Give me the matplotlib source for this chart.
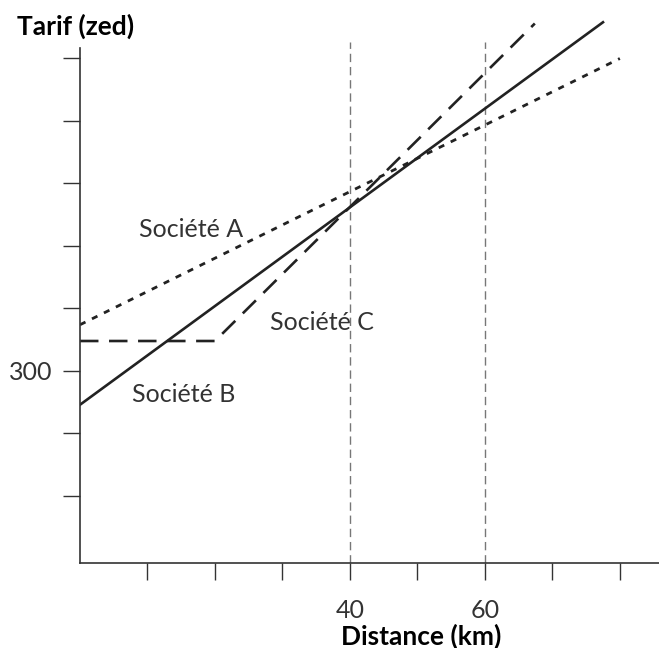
import matplotlib.pyplot as plt

plt.rcParams['font.family'] = ['Lato', 'DejaVu Sans']

distance_a = [0, 80]
tarif_a = [337, 550]
distance_b = [0, 77.5]
tarif_b = [273, 579]
distance_c = [0, 20, 67.4]
tarif_c = [324, 324, 578]

x_ticks = [10, 20, 30, 40, 50, 60, 70, 80]
x_labels = ["", "", "", "40", "", "60", "", ""]
y_ticks = [200, 250, 300, 350, 400, 450, 500, 550]
y_labels = ["", "", "300", "", "", "", "", ""]
marked_distances = [40, 60]

fig = plt.figure(figsize=(6.59, 6.48), dpi=100)
ax = fig.add_axes([80 / 659, 1 - 563 / 648, 1 - 80 / 659, (563 - 15) / 648])

ax.set_xlim(0, 85.8)
ax.set_ylim(146.4, 584.8)

for d in marked_distances:
	ax.plot([d, d], [146.4, 563], color="#777777", lw=1.0, dashes=(6, 3.5))

ax.plot(distance_a, tarif_a, color="#222222", lw=2.0, dashes=(2.2, 2.6))
ax.plot(distance_b, tarif_b, color="#222222", lw=1.9)
ax.plot(distance_c, tarif_c, color="#222222", lw=1.9, dashes=(7, 4))

lbl = dict(ha="center", va="center", fontsize=18, color="#333333")
ax.text(16.4, 412.8, "Société A", **lbl)
ax.text(35.9, 338.4, "Société C", **lbl)
ax.text(15.3, 280.8, "Société B", **lbl)

ax.spines["top"].set_visible(False)
ax.spines["right"].set_visible(False)
ax.spines["left"].set_bounds(146.4, 558.4)
for s in ["left", "bottom"]:
	ax.spines[s].set_color("#333333")
	ax.spines[s].set_linewidth(1.2)

ax.set_xticks(x_ticks)
ax.set_xticklabels(x_labels)
ax.set_yticks(y_ticks)
ax.set_yticklabels(y_labels)
ax.tick_params(axis="both", direction="out", length=12, width=1.0, color="#333333",
	labelsize=18, labelcolor="#333333")
ax.tick_params(axis="x", pad=14)
ax.tick_params(axis="y", pad=8)

fig.text(421 / 659, 1 - 636 / 648, "Distance (km)", fontsize=19, fontweight="bold",
	ha="center", va="center")
fig.text(17 / 659, 1 - 26 / 648, "Tarif (zed)", fontsize=19, fontweight="bold",
	ha="left", va="center")

fig.savefig("out.png", dpi=100)
